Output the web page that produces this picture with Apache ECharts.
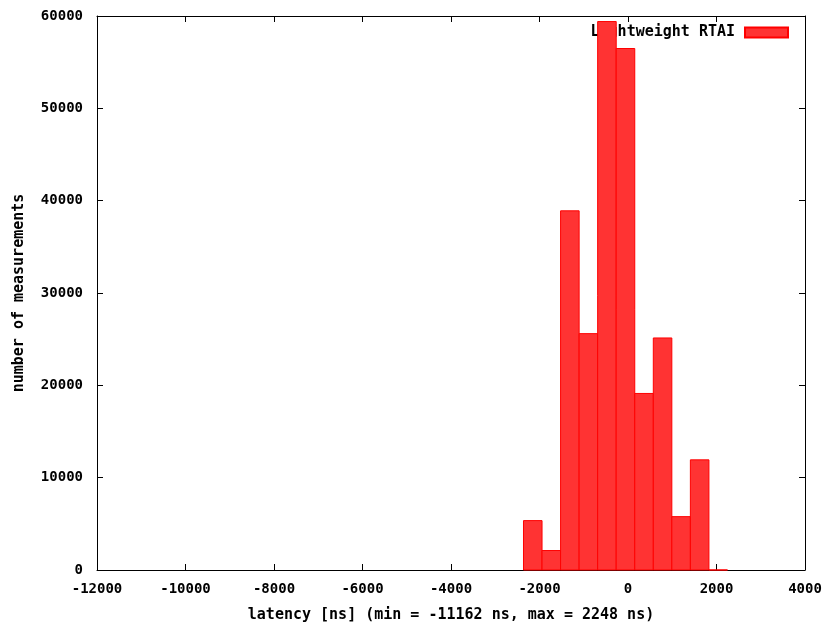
<!DOCTYPE html>
<html>
<head>
<meta charset="utf-8">
<script src="https://cdn.jsdelivr.net/npm/echarts@6/dist/echarts.min.js"></script>
<style>
  html, body { margin: 0; padding: 0; background: #fff; }
  #chart { width: 831px; height: 628px; }
</style>
</head>
<body>
<div id="chart"></div>
<script>
// histogram bins (ns), edges go from min to max in 32 steps
var binLow  = [-2361.7, -1942.6, -1523.6, -1104.5, -685.4, -266.4, 152.7, 571.8, 990.8, 1409.9, 1829.0];
var binHigh = [-1942.6, -1523.6, -1104.5, -685.4, -266.4, 152.7, 571.8, 990.8, 1409.9, 1829.0, 2248.0];
var counts  = [5350, 2110, 38900, 25600, 59400, 56480, 19120, 25130, 5780, 11930, 5];
var xTicks  = { min: -12000, max: 4000, step: 2000 };
var yTicks  = { min: 0, max: 60000, step: 10000 };

var font = '"DejaVu Sans Mono", monospace';

var binData = [];
for (var i = 0; i < counts.length; i++) {
    binData.push([binLow[i], binHigh[i], counts[i]]);
}

function renderBin(params, api) {
    var p0 = api.coord([api.value(0), api.value(2)]);
    var p1 = api.coord([api.value(1), 0]);
    return {
        type: 'rect',
        shape: { x: p0[0], y: p0[1], width: p1[0] - p0[0], height: p1[1] - p0[1] },
        style: { fill: '#ff3333', stroke: '#ff0000', lineWidth: 1 }
    };
}

function plain(v) { return String(v); }

var myChart = echarts.init(document.getElementById('chart'));

function xAxisOpt(pos, showLabel) {
    return {
        type: 'value',
        position: pos,
        min: xTicks.min,
        max: xTicks.max,
        interval: xTicks.step,
        axisLine: { show: true, onZero: false, lineStyle: { color: '#000', width: 1 } },
        axisTick: { show: true, inside: true, length: 6, lineStyle: { color: '#000' } },
        splitLine: { show: false },
        axisLabel: {
            show: showLabel, color: '#000', fontFamily: font, fontWeight: 'bold',
            fontSize: 14, margin: 12, formatter: plain
        }
    };
}

function yAxisOpt(pos, showLabel) {
    return {
        type: 'value',
        position: pos,
        min: yTicks.min,
        max: yTicks.max,
        interval: yTicks.step,
        axisLine: { show: true, onZero: false, lineStyle: { color: '#000', width: 1 } },
        axisTick: { show: true, inside: true, length: 6, lineStyle: { color: '#000' } },
        splitLine: { show: false },
        axisLabel: {
            show: showLabel, color: '#000', fontFamily: font, fontWeight: 'bold',
            fontSize: 14, margin: 14, formatter: plain
        }
    };
}

var xBottom = xAxisOpt('bottom', true);
xBottom.name = 'latency [ns] (min = -11162 ns, max = 2248 ns)';
xBottom.nameLocation = 'middle';
xBottom.nameGap = 38;
xBottom.nameTextStyle = { color: '#000', fontFamily: font, fontWeight: 'bold', fontSize: 15 };

var yLeft = yAxisOpt('left', true);
yLeft.name = 'number of measurements';
yLeft.nameLocation = 'middle';
yLeft.nameGap = 70;
yLeft.nameTextStyle = { color: '#000', fontFamily: font, fontWeight: 'bold', fontSize: 15 };

option = {
    animation: false,
    backgroundColor: '#fff',
    grid: { left: 97, right: 26, top: 16, bottom: 56, containLabel: false },
    legend: {
        z: 1,
        right: 37,
        top: 20,
        align: 'right',
        itemWidth: 43,
        itemHeight: 10,
        itemGap: 10,
        textStyle: { color: '#000', fontFamily: font, fontWeight: 'bold', fontSize: 15, padding: [0, 5, 0, 0] },
        data: [{ name: 'Lightweight RTAI', icon: 'rect' }]
    },
    xAxis: [xBottom, xAxisOpt('top', false)],
    yAxis: [yLeft, yAxisOpt('right', false)],
    series: [{
        name: 'Lightweight RTAI',
        type: 'custom',
        z: 3,
        renderItem: renderBin,
        encode: { x: [0, 1], y: 2 },
        itemStyle: { color: '#ff3333', borderColor: '#ff0000', borderWidth: 1 },
        data: binData
    }]
};

myChart.setOption(option);
</script>
</body>
</html>
